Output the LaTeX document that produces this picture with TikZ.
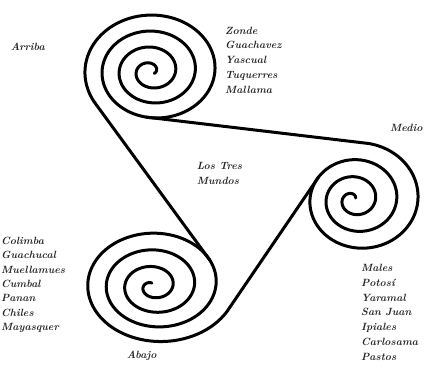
\documentclass[tikz,border=0pt]{standalone}
\begin{document}
\begin{tikzpicture}[x=1pt,y=-1pt,
    declare function={gT(\t)=1-(\t-148.3)/1400; gM(\t)=1-(\t-277.4)/1200; gB(\t)=1-(\t-28.1)/1400;},
    rope/.style={line width=3pt,line cap=round,line join=round},
    place/.style={font=\fontsize{10.5}{12}\selectfont\bfseries\itshape,inner sep=0pt,anchor=base west,text=black!85}]
    \useasboundingbox (0,0) rectangle (428,383);
    % where the lines meet the spirals
    \coordinate (tA) at ({150+5*gT(148.3)+gT(148.3)*71.5*cos(148.3)},{72-1.9*gT(148.3)+gT(148.3)*60.4*sin(148.3)});
    \coordinate (tB) at ({150+5*gT(458)+gT(458)*71.5*cos(458)},{72-1.9*gT(458)+gT(458)*60.4*sin(458)});
    \coordinate (mB) at ({352+8.5*gM(277.4)+gM(277.4)*62.3*cos(277.4)},{200-0.4*gM(277.4)+gM(277.4)*56.6*sin(277.4)});
    \coordinate (mC) at ({352+8.5*gM(571.8)+gM(571.8)*62.3*cos(571.8)},{200-0.4*gM(571.8)+gM(571.8)*56.6*sin(571.8)});
    \coordinate (bC) at ({152+6*gB(28.1)+gB(28.1)*78*cos(28.1)},{287-4*gB(28.1)+gB(28.1)*61*sin(28.1)});
    \coordinate (bA) at ({152+6*gB(330.3)+gB(330.3)*78*cos(330.3)},{287-4*gB(330.3)+gB(330.3)*61*sin(330.3)});
    % spirals
    \draw [rope] plot[domain=148.3:1464,samples=700,variable=\t]
        ({150+5*gT(\t)+gT(\t)*71.5*cos(\t)},{72-1.9*gT(\t)+gT(\t)*60.4*sin(\t)});
    \draw [rope] plot[domain=277.4:1405,samples=700,variable=\t]
        ({352+8.5*gM(\t)+gM(\t)*62.3*cos(\t)},{200-0.4*gM(\t)+gM(\t)*56.6*sin(\t)});
    \draw [rope] plot[domain=28.1:1344,samples=700,variable=\t]
        ({152+6*gB(\t)+gB(\t)*78*cos(\t)},{287-4*gB(\t)+gB(\t)*61*sin(\t)});
    % connecting lines
    \draw [rope] (bA) to (tA);
    \draw [rope] (tB) to (mB);
    \draw [rope] (mC) to (bC);
    % labels
    \node [place] (arriba) at (10.7,50) {Arriba};
    \node [place] (medio) at (390,131.5) {Medio};
    \node [place] (abajo) at (126.7,358) {Abajo};
    \node [place] (tres) at (196.7,169) {Los Tres};
    \node [place] (mundos) at (196.7,184) {Mundos};
    \node [place] (a1) at (225,34) {Zonde};
    \node [place] (a2) at (225,48.8) {Guachavez};
    \node [place] (a3) at (225,63.6) {Yascual};
    \node [place] (a4) at (225,78.4) {Tuquerres};
    \node [place] (a5) at (225,93.2) {Mallama};
    \node [place] (m1) at (361,271.5) {Males};
    \node [place] (m2) at (361,286.3) {Potosí};
    \node [place] (m3) at (361,301.1) {Yaramal};
    \node [place] (m4) at (361,315.9) {San Juan};
    \node [place] (m5) at (361,330.7) {Ipiales};
    \node [place] (m6) at (361,345.5) {Carlosama};
    \node [place] (m7) at (361,360.3) {Pastos};
    \node [place] (b1) at (1,244.5) {Colimba};
    \node [place] (b2) at (1,258.8) {Guachucal};
    \node [place] (b3) at (1,273.1) {Muellamues};
    \node [place] (b4) at (1,287.4) {Cumbal};
    \node [place] (b5) at (1,301.7) {Panan};
    \node [place] (b6) at (1,316) {Chiles};
    \node [place] (b7) at (1,330.3) {Mayasquer};
\end{tikzpicture}
\end{document}
